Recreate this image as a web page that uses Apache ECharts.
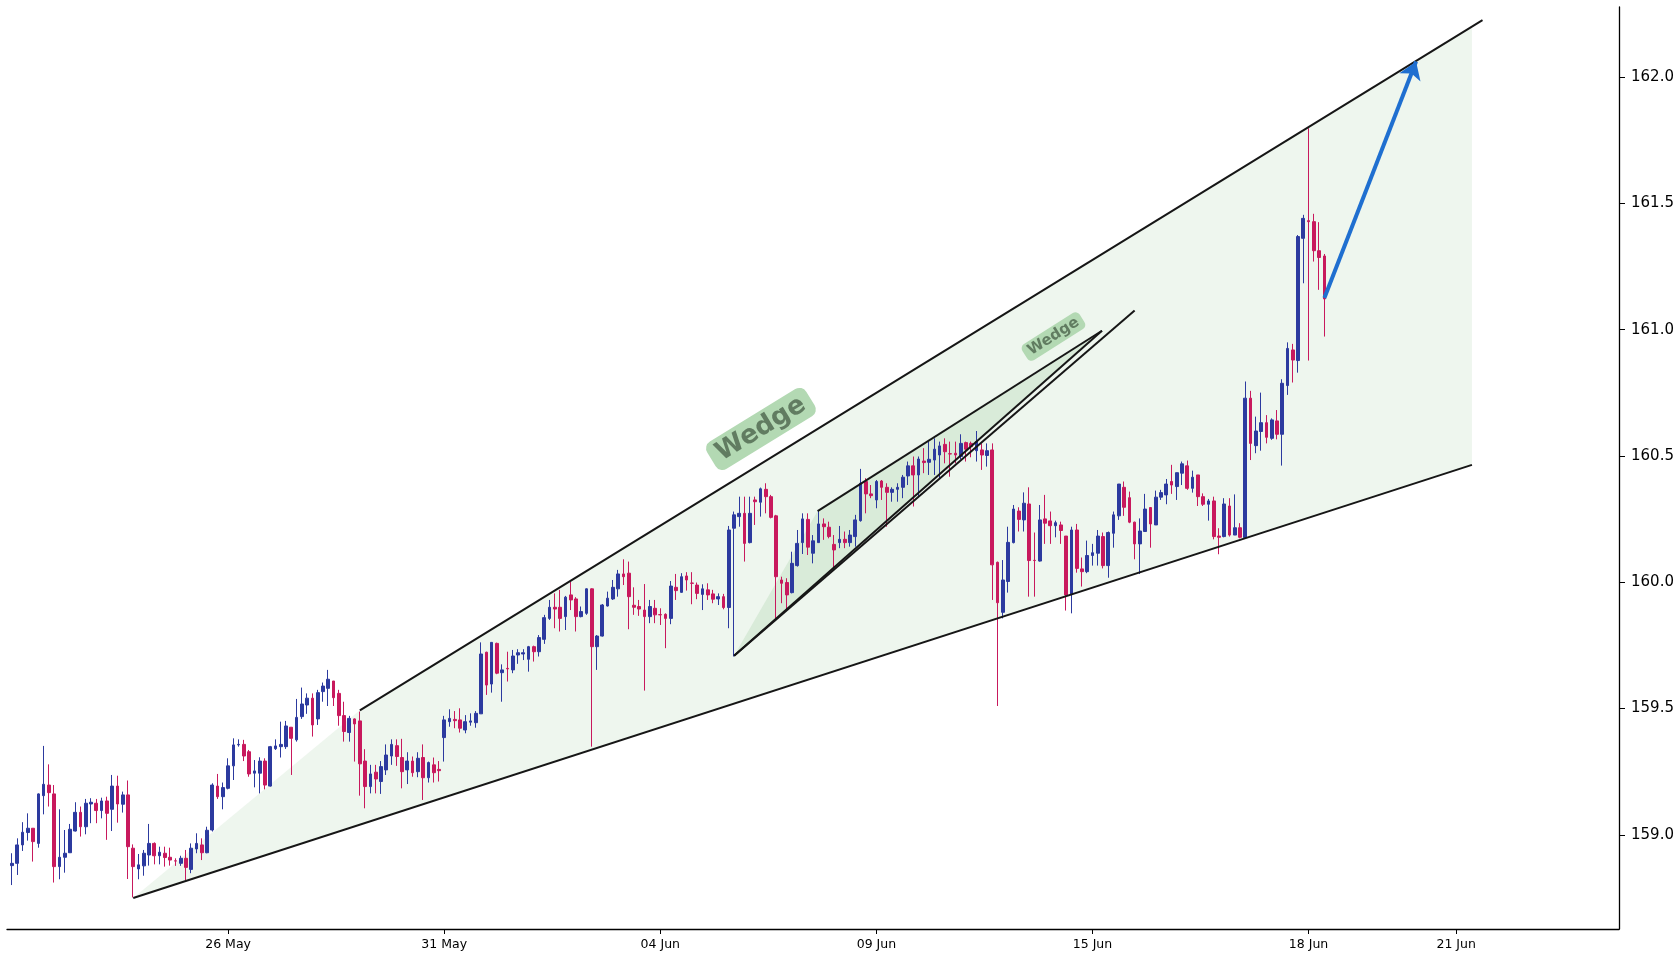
<!DOCTYPE html>
<html>
<head>
<meta charset="utf-8">
<title>Wedge</title>
<script src="https://cdn.jsdelivr.net/npm/echarts@6/dist/echarts.min.js"></script>
<style>
  html, body { margin: 0; padding: 0; background: #fff; }
  #chart { width: 1680px; height: 960px; }
</style>
</head>
<body>
<div id="chart"></div>
<script>
// candles, one per bar index
var candleOpen = [
  158.878,158.887,158.960,159.009,159.026,158.966,159.155,159.197,159.162,158.874,
  158.911,158.929,159.015,159.089,159.032,159.122,159.125,159.096,159.134,159.101,
  159.193,159.121,159.158,158.947,158.865,158.877,158.920,158.966,158.917,158.927,
  158.911,158.897,158.887,158.907,158.863,158.944,158.960,158.929,159.019,159.193,
  159.151,159.184,159.273,159.356,159.358,159.329,159.244,159.244,159.292,159.193,
  159.341,159.349,159.349,159.426,159.376,159.468,159.514,159.541,159.459,159.567,
  159.580,159.609,159.560,159.472,159.405,159.459,159.451,159.292,159.191,159.248,
  159.211,159.257,159.312,159.353,159.306,159.257,159.292,159.250,159.306,159.226,
  159.277,159.259,159.385,159.448,159.457,159.455,159.415,159.446,159.444,159.479,
  159.723,159.597,159.758,159.642,159.659,159.653,159.712,159.716,159.695,159.745,
  159.725,159.774,159.857,159.901,159.901,159.864,159.950,159.934,159.864,159.877,
  159.974,159.745,159.787,159.906,159.934,159.974,160.033,160.036,159.909,159.904,
  159.890,159.864,159.897,159.872,159.873,159.857,159.980,159.960,160.025,159.997,
  159.989,159.952,159.970,159.954,159.934,159.943,159.900,160.214,160.260,160.273,
  160.157,160.326,160.317,160.368,160.339,160.263,160.009,159.999,159.959,160.066,
  160.157,160.249,160.115,160.157,160.231,160.218,160.150,160.157,160.170,160.157,
  160.181,160.244,160.399,160.350,160.326,160.401,160.376,160.356,160.368,160.376,
  160.421,160.461,160.425,160.480,160.475,160.484,160.504,160.546,160.509,160.511,
  160.498,160.553,160.550,160.521,160.524,160.502,160.524,160.079,159.881,160.003,
  160.157,160.282,160.247,160.310,160.087,160.084,160.251,160.243,160.224,160.227,
  160.183,159.954,160.207,160.053,160.042,160.106,160.115,160.181,160.066,160.194,
  160.263,160.376,160.335,160.238,160.152,160.201,160.296,160.227,160.337,160.346,
  160.399,160.379,160.432,160.461,160.372,160.425,160.339,160.309,160.322,160.183,
  160.181,160.302,160.187,160.216,160.177,160.729,160.541,160.597,160.632,160.570,
  160.639,160.586,160.779,160.920,160.878,161.362,161.432,161.428,161.313,161.292
];
var candleClose = [
  158.887,158.960,159.010,159.026,158.973,159.162,159.200,159.167,158.874,158.911,
  158.927,159.022,159.089,159.032,159.125,159.129,159.096,159.134,159.085,159.193,
  159.122,159.158,158.953,158.874,158.881,158.927,158.966,158.917,158.931,158.910,
  158.900,158.896,158.907,158.871,158.947,158.966,158.929,159.018,159.197,159.151,
  159.187,159.273,159.356,159.358,159.312,159.241,159.253,159.292,159.197,159.349,
  159.352,159.358,159.431,159.382,159.465,159.518,159.541,159.435,159.563,159.589,
  159.616,159.543,159.472,159.409,159.461,159.439,159.281,159.191,159.241,159.221,
  159.270,159.316,159.358,159.310,159.250,159.292,159.246,159.303,159.226,159.286,
  159.246,159.254,159.455,159.461,159.452,159.422,159.448,159.451,159.481,159.716,
  159.593,159.762,159.640,159.653,159.657,159.708,159.721,159.721,159.745,159.725,
  159.781,159.860,159.901,159.894,159.857,159.941,159.930,159.864,159.884,159.974,
  159.745,159.787,159.910,159.937,159.980,160.033,160.022,159.943,159.901,159.894,
  159.864,159.904,159.871,159.871,159.857,159.985,159.967,160.022,160.009,159.996,
  159.956,159.974,159.950,159.933,159.943,159.900,160.207,160.267,160.273,160.154,
  160.273,160.319,160.370,160.339,160.257,160.022,159.996,159.950,160.075,160.154,
  160.251,160.139,160.164,160.231,160.220,160.181,160.128,160.170,160.157,160.187,
  160.247,160.392,160.350,160.343,160.399,160.376,160.356,160.368,160.376,160.416,
  160.461,160.425,160.488,160.474,160.487,160.527,160.540,160.517,160.508,160.504,
  160.550,160.527,160.537,160.557,160.504,160.521,160.069,159.919,160.009,160.158,
  160.290,160.249,160.313,160.086,160.086,160.247,160.234,160.224,160.236,160.205,
  159.950,160.207,160.055,160.042,160.106,160.117,160.183,160.066,160.197,160.267,
  160.389,160.297,160.238,160.152,160.203,160.290,160.231,160.337,160.355,160.389,
  160.385,160.434,160.469,160.372,160.416,160.339,160.309,160.322,160.181,160.178,
  160.310,160.187,160.216,160.178,160.729,160.550,160.599,160.632,160.574,160.643,
  160.586,160.788,160.926,160.880,161.369,161.441,161.428,161.313,161.286,161.122
];
var candleLow = [
  158.801,158.841,158.936,158.977,158.894,158.949,159.081,159.112,158.811,158.824,
  158.850,158.929,159.013,158.993,159.002,159.046,159.046,159.065,158.980,159.015,
  159.048,159.088,158.825,158.752,158.824,158.838,158.878,158.883,158.883,158.874,
  158.878,158.877,158.877,158.821,158.848,158.927,158.900,158.927,159.013,159.142,
  159.101,159.180,159.217,159.349,159.292,159.230,159.188,159.164,159.180,159.191,
  159.336,159.306,159.340,159.237,159.369,159.459,159.479,159.389,159.435,159.527,
  159.510,159.510,159.432,159.369,159.369,159.290,159.155,159.105,159.164,159.164,
  159.162,159.237,159.277,159.273,159.184,159.201,159.230,159.228,159.138,159.207,
  159.207,159.211,159.290,159.428,159.422,159.405,159.402,159.432,159.424,159.479,
  159.554,159.563,159.636,159.527,159.607,159.640,159.677,159.692,159.646,159.686,
  159.706,159.756,159.851,159.818,159.805,159.811,159.890,159.805,159.861,159.871,
  159.349,159.653,159.785,159.904,159.930,159.943,159.989,159.814,159.871,159.867,
  159.571,159.838,159.838,159.831,159.739,159.834,159.930,159.959,159.967,159.913,
  159.933,159.890,159.930,159.917,159.910,159.893,159.818,159.706,160.220,160.082,
  160.154,160.227,160.260,160.273,160.253,159.857,159.917,159.890,159.956,160.062,
  160.112,160.108,160.075,160.157,160.168,160.174,160.055,160.135,160.135,160.141,
  160.141,160.240,160.273,160.333,160.293,160.326,160.220,160.319,160.319,160.333,
  160.385,160.300,160.339,160.432,160.425,160.425,160.412,160.471,160.418,160.471,
  160.487,160.478,160.495,160.478,160.445,160.458,159.930,159.510,159.857,159.959,
  160.154,160.201,160.201,159.943,159.943,160.082,160.152,160.152,160.178,160.152,
  159.888,159.877,160.038,159.983,160.036,160.066,160.066,160.055,160.018,160.137,
  160.247,160.263,160.234,160.091,160.033,160.201,160.137,160.227,160.326,160.309,
  160.350,160.326,160.385,160.366,160.355,160.302,160.302,160.244,160.170,160.111,
  160.178,160.181,160.187,160.174,160.177,160.484,160.511,160.521,160.550,160.564,
  160.566,160.462,160.742,160.791,160.830,161.184,160.878,161.270,161.158,160.973
];
var candleHigh = [
  158.927,158.986,159.050,159.085,159.026,159.164,159.352,159.279,159.197,159.101,
  159.019,159.043,159.129,159.112,159.142,159.145,159.142,159.147,159.151,159.237,
  159.234,159.171,159.215,158.962,158.924,158.940,159.043,158.970,158.953,158.953,
  158.949,158.907,158.917,158.940,158.966,159.006,158.986,159.032,159.204,159.241,
  159.207,159.303,159.382,159.378,159.376,159.336,159.296,159.307,159.303,159.352,
  159.378,159.448,159.451,159.426,159.538,159.583,159.560,159.560,159.574,159.603,
  159.653,159.609,159.574,159.527,159.471,159.461,159.488,159.339,159.277,159.277,
  159.292,159.358,159.378,159.378,159.380,159.327,159.310,159.327,159.358,159.290,
  159.306,159.292,159.471,159.497,159.490,159.501,159.474,159.481,159.490,159.762,
  159.725,159.762,159.761,159.675,159.725,159.732,159.735,159.735,159.748,159.749,
  159.791,159.871,159.930,159.956,159.970,159.946,160.001,159.941,159.904,159.976,
  159.976,159.791,159.914,159.963,160.009,160.049,160.091,160.082,159.980,159.930,
  159.993,159.930,159.930,159.897,159.877,160.005,160.033,160.036,160.040,160.040,
  159.999,159.992,159.996,159.970,159.956,159.954,160.223,160.280,160.339,160.339,
  160.339,160.339,160.375,160.392,160.346,160.267,160.022,160.016,160.121,160.207,
  160.273,160.273,160.187,160.286,160.253,160.240,160.187,160.223,160.201,160.207,
  160.267,160.449,160.412,160.385,160.405,160.405,160.392,160.376,160.392,160.425,
  160.478,160.498,160.498,160.531,160.557,160.570,160.557,160.570,160.557,160.557,
  160.586,160.557,160.557,160.599,160.550,160.550,160.550,160.082,160.088,160.220,
  160.306,160.297,160.356,160.376,160.197,160.306,160.346,160.280,160.244,160.240,
  160.183,160.220,160.231,160.098,160.165,160.152,160.207,160.197,160.201,160.280,
  160.389,160.399,160.359,160.240,160.253,160.350,160.297,160.363,160.366,160.409,
  160.465,160.434,160.478,160.482,160.442,160.425,160.352,160.330,160.339,160.214,
  160.333,160.333,160.348,160.234,160.795,160.758,160.656,160.751,160.662,160.649,
  160.682,160.804,160.950,160.944,161.375,161.455,161.798,161.459,161.426,161.300
];

// x ticks (bar index -> date label)
var tickIdx = [41, 82, 123, 164, 205, 246, 274];
var tickLabels = ['26 May', '31 May', '04 Jun', '09 Jun', '15 Jun', '18 Jun', '21 Jun'];
var yTicks = [159.0, 159.5, 160.0, 160.5, 161.0, 161.5, 162.0];

// trend lines [bar index, price]
var lowerLine = [[23, 158.750], [277, 160.465]];
var upperLine = [[66, 159.493], [279, 162.226]];
var channelFill = [[23, 158.750], [66, 159.493], [277, 162.201], [277, 160.465]];
var wedgeLineA = [[137, 159.709], [206.8, 160.996]];
var wedgeLineB = [[152.85, 160.282], [206.8, 160.996]];
var wedgeLineC = [[137, 159.709], [213, 161.076]];
var wedgeFill = [[137, 159.709], [152.85, 160.282], [206.8, 160.996]];
var arrowLine = [[249, 161.126], [266.4, 162.062]];

var labelText = ['Wedge', 'Wedge'];
var labelPos = [[142.1, 160.607], [197.6, 160.973]];
var labelSize = [26, 15];
var labelAngle = [31.6, 32.4];

var candleData = [];
for (var i = 0; i < candleOpen.length; i++) {
    candleData.push([i, candleOpen[i], candleClose[i], candleLow[i], candleHigh[i]]);
}

function polygonSeries(points, color, z) {
    return {
        type: 'custom',
        coordinateSystem: 'cartesian2d',
        silent: true,
        z: z,
        data: [0],
        renderItem: function (params, api) {
            var pts = points.map(function (p) { return api.coord(p); });
            return {type: 'polygon', shape: {points: pts}, style: {fill: color}};
        }
    };
}

var myChart = echarts.init(document.getElementById('chart'), null, {renderer: 'canvas'});

var option = {
    animation: false,
    backgroundColor: '#ffffff',
    grid: {left: 7, right: 61, top: 7, bottom: 31, containLabel: false},
    xAxis: {
        type: 'value',
        min: -0.95,
        max: 304.9,
        splitLine: {show: false},
        axisLine: {show: true, onZero: false, lineStyle: {color: '#000', width: 1.3}},
        axisTick: {show: true, customValues: tickIdx, length: 5, lineStyle: {color: '#000', width: 1}},
        axisLabel: {
            customValues: tickIdx,
            formatter: function (v) { return tickLabels[tickIdx.indexOf(v)] || ''; },
            color: '#000', fontSize: 12.5, fontFamily: 'DejaVu Sans', margin: 9
        }
    },
    yAxis: {
        type: 'value',
        position: 'right',
        min: 158.627,
        max: 162.278,
        splitLine: {show: false},
        axisLine: {show: true, onZero: false, lineStyle: {color: '#000', width: 1.3}},
        axisTick: {show: true, customValues: yTicks, length: 6, lineStyle: {color: '#000', width: 1}},
        axisLabel: {
            customValues: yTicks,
            formatter: function (v) { return v.toFixed(1); },
            color: '#000', fontSize: 15, fontFamily: 'DejaVu Sans', margin: 12
        }
    },
    series: [
        polygonSeries(channelFill, '#eef6ee', 1),
        polygonSeries(wedgeFill, '#d9ebd9', 2),
        {
            type: 'candlestick',
            data: candleData,
            encode: {x: 0, y: [1, 2, 3, 4]},
            barWidth: 3.2,
            z: 3,
            itemStyle: {
                color: '#2c3a9f', color0: '#c8195d',
                borderColor: '#2c3a9f', borderColor0: '#c8195d',
                borderWidth: 1
            }
        },
        {
            type: 'lines',
            coordinateSystem: 'cartesian2d',
            silent: true,
            z: 4,
            data: [
                {coords: lowerLine}, {coords: upperLine},
                {coords: wedgeLineA}, {coords: wedgeLineB}, {coords: wedgeLineC}
            ],
            lineStyle: {color: '#161616', width: 2, opacity: 1}
        },
        {
            type: 'lines',
            coordinateSystem: 'cartesian2d',
            silent: true,
            z: 5,
            data: [{coords: arrowLine}],
            symbol: ['none', 'arrow'],
            symbolSize: [13, 17],
            lineStyle: {color: '#1f6fd0', width: 4, opacity: 1}
        },
        {
            type: 'custom',
            coordinateSystem: 'cartesian2d',
            silent: true,
            z: 6,
            data: [0, 1],
            renderItem: function (params, api) {
                var k = params.dataIndex;
                var p = api.coord(labelPos[k]);
                return {
                    type: 'text',
                    x: p[0],
                    y: p[1],
                    rotation: labelAngle[k] * Math.PI / 180,
                    style: {
                        text: labelText[k],
                        fill: '#617c61',
                        font: 'bold ' + labelSize[k] + 'px "DejaVu Sans"',
                        backgroundColor: '#b3d9b3',
                        padding: k == 0 ? [3, 8] : [2, 5],
                        borderRadius: k == 0 ? 8 : 5,
                        align: 'center',
                        verticalAlign: 'middle'
                    }
                };
            }
        }
    ]
};

myChart.setOption(option);
</script>
</body>
</html>
